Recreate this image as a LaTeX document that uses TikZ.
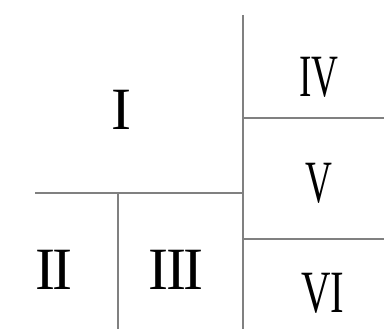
\documentclass[tikz,border=0pt]{standalone}
\usepackage{fontspec}
\setmainfont{Liberation Serif}
\usepackage{graphicx}
\usetikzlibrary{positioning}
\newcommand{\narrownum}[1]{\scalebox{0.62}[1]{#1}}

\begin{document}
\begin{tikzpicture}[x=1pt, y=-1pt, every node/.style={font=\fontsize{60}{60}\selectfont, inner sep=0pt}]
\tikzstyle{part}=[draw=black!50, line width=1.1pt]
\useasboundingbox (0,0) rectangle (384,329);
% dividing lines
\draw[part] (243,15) -- (243,329);
\draw[part] (35,193) -- (243,193);
\draw[part] (118,193) -- (118,329);
\draw[part] (243,118) -- (384,118);
\draw[part] (243,239) -- (384,239);
% region labels
\node (one) at (121,110) {I};
\node (two) at (54,270) {I\kern-2.5pt I};
\node (three) at (176,270) {I\kern-2.5pt I\kern-2.5pt I};
\node (four) at (319,77) {\narrownum{IV}};
\node (five) at (319,183) {\narrownum{V}};
\node (six) at (323,293) {\scalebox{0.68}[1]{VI}};
\end{tikzpicture}
\end{document}
